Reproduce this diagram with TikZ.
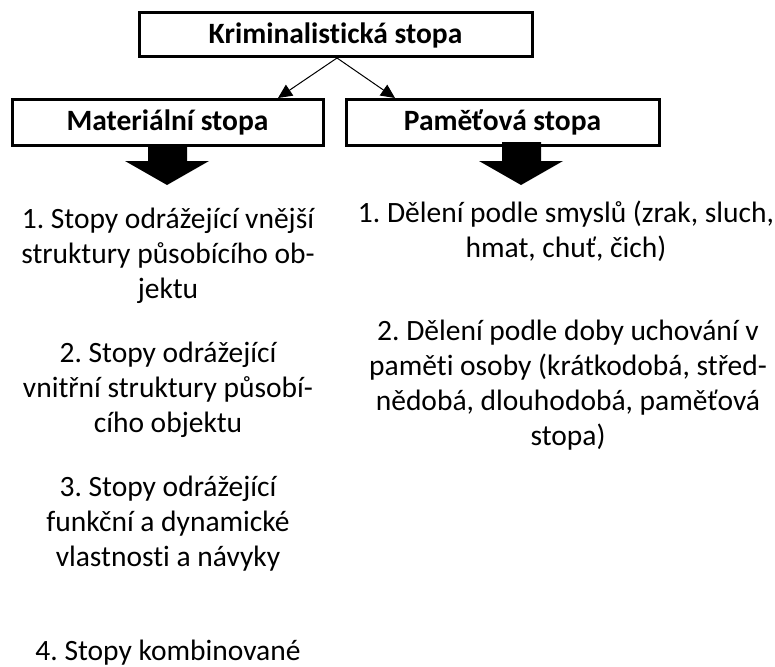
\documentclass[tikz,border=0pt]{standalone}
\usepackage{fontspec}
\setmainfont{Carlito}[Ligatures=NoCommon]
\usetikzlibrary{arrows.meta}
\frenchspacing
\begin{document}
\begin{tikzpicture}[x=1pt,y=-1pt,
  box/.style={draw, line width=3pt, inner sep=0pt, font=\fontsize{29.5}{34}\selectfont\bfseries},
  txt/.style={align=center, font=\fontsize{29.5}{35}\selectfont, inner sep=0pt, anchor=base},
  conn/.style={line width=1pt, -{Triangle[length=14pt,width=13pt]}},
  fat/.style={fill=black}]
\useasboundingbox (0,0) rectangle (775,666);
\node[box, minimum width=393pt, minimum height=44pt] (top) at (335.5,35) {Kriminalistická stopa};
\node[box, minimum width=311pt, minimum height=45pt] (mat) at (167.5,122.5) {Materiální stopa};
\node[box, minimum width=313pt, minimum height=45pt] (pam) at (502.5,122.5) {Paměťová stopa};
\coordinate (split) at (337,58);
\coordinate (toml) at (278,98);
\coordinate (topr) at (395,98);
\draw[conn] (split) -- (toml);
\draw[conn] (split) -- (topr);
% fat arrows
\fill[fat] (148,146) -- (187,146) -- (187,161) -- (209,161) -- (167,185) -- (125,161) -- (148,161) -- cycle;
\fill[fat] (502,142) -- (541,142) -- (541,161) -- (563,161) -- (521,185) -- (479,161) -- (502,161) -- cycle;
% left column (base = last line)
\node[txt] (l1) at (168,298) {1. Stopy odrážející vnější\\struktury působícího ob-\\jektu};
\node[txt] (l2) at (168,432) {2. Stopy odrážející\\vnitřní struktury působí-\\cího objektu};
\node[txt] (l3) at (168,566) {3. Stopy odrážející\\funkční a dynamické\\vlastnosti a návyky};
\node[txt] (l4) at (168,660) {4. Stopy kombinované};
% right column
\node[txt] (r1) at (566,257) {1. Dělení podle smyslů (zrak, sluch,\\hmat, chuť, čich)};
\node[txt] (r2) at (568,445) {2. Dělení podle doby uchování v\\paměti osoby (krátkodobá, střed-\\nědobá, dlouhodobá, paměťová\\stopa)};
\end{tikzpicture}
\end{document}
